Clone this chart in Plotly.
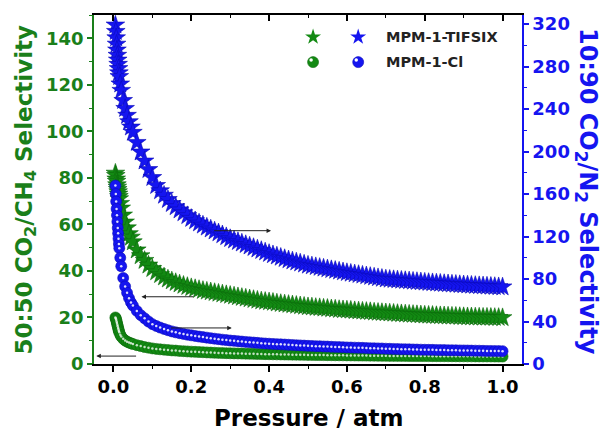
import plotly.graph_objects as go

# Pressure grid (atm) shared by all four selectivity curves
pressure = [
    0.005, 0.006, 0.007, 0.008, 0.009, 0.010, 0.011, 0.012, 0.013, 0.014, 0.015,
    0.0175, 0.020, 0.025, 0.030, 0.035, 0.040, 0.045, 0.050, 0.060, 0.070, 0.080,
    0.090, 0.100,
    0.11, 0.12, 0.13, 0.14, 0.15, 0.16, 0.17, 0.18, 0.19, 0.20,
    0.21, 0.22, 0.23, 0.24, 0.25, 0.26, 0.27, 0.28, 0.29, 0.30,
    0.31, 0.32, 0.33, 0.34, 0.35, 0.36, 0.37, 0.38, 0.39, 0.40,
    0.41, 0.42, 0.43, 0.44, 0.45, 0.46, 0.47, 0.48, 0.49, 0.50,
    0.51, 0.52, 0.53, 0.54, 0.55, 0.56, 0.57, 0.58, 0.59, 0.60,
    0.61, 0.62, 0.63, 0.64, 0.65, 0.66, 0.67, 0.68, 0.69, 0.70,
    0.71, 0.72, 0.73, 0.74, 0.75, 0.76, 0.77, 0.78, 0.79, 0.80,
    0.81, 0.82, 0.83, 0.84, 0.85, 0.86, 0.87, 0.88, 0.89, 0.90,
    0.91, 0.92, 0.93, 0.94, 0.95, 0.96, 0.97, 0.98, 0.99, 1.00,
]

# 50:50 CO2/CH4 selectivity, MPM-1-TIFSIX (left axis)
ch4_tifsix = [
    82.0, 81.0, 79.5, 78.5, 77.0, 76.0, 75.0, 74.0, 73.0, 72.0, 71.0,
    69.0, 67.0, 64.0, 61.0, 58.5, 56.0, 54.5, 52.5, 49.0, 46.5, 44.5,
    42.5, 41.0,
    39.6, 38.4, 37.4, 36.5, 35.7, 35.0, 34.4, 33.8, 33.3, 32.8,
    32.4, 32.0, 31.6, 31.3, 31.0, 30.7, 30.4, 30.1, 29.8, 29.5,
    29.2, 28.9, 28.6, 28.3, 28.0, 27.7, 27.4, 27.1, 26.9, 26.7,
    26.5, 26.2, 26.0, 25.8, 25.6, 25.4, 25.2, 25.0, 24.8, 24.6,
    24.5, 24.3, 24.2, 24.0, 23.9, 23.7, 23.6, 23.4, 23.3, 23.2,
    23.1, 22.9, 22.8, 22.7, 22.6, 22.5, 22.3, 22.2, 22.1, 22.0,
    21.9, 21.8, 21.7, 21.6, 21.5, 21.4, 21.3, 21.2, 21.1, 21.0,
    20.95, 20.9, 20.8, 20.75, 20.7, 20.6, 20.55, 20.5, 20.4, 20.35,
    20.3, 20.25, 20.2, 20.15, 20.1, 20.1, 20.05, 20.0, 20.0, 19.9,
]

# 50:50 CO2/CH4 selectivity, MPM-1-Cl (left axis)
ch4_cl = [
    20.0, 19.6, 19.0, 18.3, 17.6, 16.9, 16.2, 15.5, 14.8, 14.2, 13.6,
    12.6, 11.8, 10.8, 10.1, 9.6, 9.2, 8.9, 8.6, 8.1, 7.7, 7.3,
    7.0, 6.7,
    6.5, 6.3, 6.15, 6.0, 5.85, 5.75, 5.6, 5.5, 5.4, 5.3,
    5.22, 5.14, 5.06, 4.98, 4.9, 4.84, 4.78, 4.72, 4.66, 4.6,
    4.56, 4.52, 4.48, 4.44, 4.4, 4.36, 4.32, 4.28, 4.24, 4.2,
    4.17, 4.14, 4.11, 4.08, 4.05, 4.02, 3.99, 3.96, 3.93, 3.9,
    3.88, 3.86, 3.84, 3.82, 3.80, 3.78, 3.76, 3.74, 3.72, 3.70,
    3.68, 3.66, 3.64, 3.62, 3.60, 3.58, 3.56, 3.54, 3.52, 3.50,
    3.49, 3.48, 3.47, 3.46, 3.45, 3.44, 3.43, 3.42, 3.41, 3.40,
    3.39, 3.38, 3.37, 3.36, 3.35, 3.34, 3.33, 3.32, 3.31, 3.30,
    3.29, 3.28, 3.27, 3.26, 3.25, 3.24, 3.23, 3.22, 3.21, 3.20,
]

# 10:90 CO2/N2 selectivity, MPM-1-TIFSIX (right axis)
n2_tifsix = [
    319.0, 313.0, 307.0, 301.0, 295.5, 290.5, 286.0, 282.0, 278.0, 274.0, 270.5,
    263.5, 257.5, 248.0, 240.5, 234.0, 228.0, 223.0, 218.0, 208.5, 199.5, 191.0,
    183.0, 175.5,
    168.0, 163.0, 158.8, 154.8, 151.0, 148.0, 145.0, 142.3, 139.6, 137.0,
    134.8, 132.7, 130.7, 128.8, 127.0, 125.2, 123.4, 121.6, 119.8, 118.0,
    116.6, 115.2, 113.8, 112.4, 111.0, 109.6, 108.2, 106.8, 105.4, 104.0,
    102.8, 101.6, 100.4, 99.2, 98.0, 97.0, 96.0, 95.0, 94.0, 93.0,
    92.3, 91.6, 90.9, 90.2, 89.5, 88.8, 88.1, 87.4, 86.7, 86.0,
    85.4, 84.8, 84.2, 83.6, 83.0, 82.4, 81.8, 81.2, 80.6, 80.0,
    79.7, 79.4, 79.1, 78.8, 78.5, 78.2, 77.9, 77.6, 77.3, 77.0,
    76.7, 76.5, 76.2, 76.0, 75.7, 75.5, 75.2, 75.0, 74.7, 74.5,
    74.3, 74.1, 73.9, 73.7, 73.5, 73.3, 73.1, 72.9, 72.7, 72.5,
]

# 10:90 CO2/N2 selectivity, MPM-1-Cl (right axis)
n2_cl = [
    168.0, 160.0, 153.0, 146.0, 140.0, 134.0, 128.0, 123.0, 118.0, 113.0, 109.0,
    100.0, 92.0, 81.0, 73.0, 67.0, 62.0, 58.0, 55.0, 50.0, 46.0, 43.0,
    40.0, 37.5,
    35.8, 34.3, 33.0, 31.8, 30.7, 29.8, 29.0, 28.3, 27.6, 27.0,
    26.4, 25.8, 25.3, 24.8, 24.3, 23.8, 23.4, 22.9, 22.5, 22.1,
    21.8, 21.5, 21.1, 20.8, 20.5, 20.2, 19.9, 19.6, 19.3, 19.1,
    18.9, 18.7, 18.5, 18.3, 18.1, 17.9, 17.7, 17.5, 17.3, 17.1,
    17.0, 16.8, 16.7, 16.5, 16.4, 16.2, 16.1, 15.9, 15.8, 15.6,
    15.5, 15.4, 15.3, 15.2, 15.0, 14.9, 14.8, 14.7, 14.6, 14.4,
    14.3, 14.2, 14.1, 14.0, 13.9, 13.8, 13.7, 13.6, 13.5, 13.4,
    13.35, 13.3, 13.2, 13.15, 13.1, 13.0, 12.95, 12.9, 12.8, 12.75,
    12.7, 12.6, 12.55, 12.5, 12.4, 12.35, 12.3, 12.2, 12.15, 12.1,
]

x_ticks = [0.0, 0.2, 0.4, 0.6, 0.8, 1.0]
x_ticklabels = ["0.0", "0.2", "0.4", "0.6", "0.8", "1.0"]
left_ticks = [0, 20, 40, 60, 80, 100, 120, 140]
right_ticks = [0, 40, 80, 120, 160, 200, 240, 280, 320]
series_names = ["MPM-1-TIFSIX", "MPM-1-Cl"]

GREEN = "#138a13"
GREEN_TXT = "#1a7f1a"
BLUE = "#1515f0"
FONT = "DejaVu Sans, Liberation Sans, Arial, sans-serif"

fig = go.Figure()

# left-axis curves (CO2/CH4)
fig.add_trace(go.Scatter(
    x=pressure, y=ch4_tifsix, mode="markers", xaxis="x", yaxis="y",
    marker=dict(symbol="star", size=14, color=GREEN, line=dict(color="#0b6a0b", width=0.6)),
    showlegend=False, hoverinfo="skip"))
fig.add_trace(go.Scatter(
    x=pressure, y=ch4_cl, mode="markers", xaxis="x", yaxis="y",
    marker=dict(symbol="circle", size=11, color=GREEN, line=dict(color="#0b6a0b", width=0.6)),
    showlegend=False, hoverinfo="skip"))
fig.add_trace(go.Scatter(
    x=pressure, y=ch4_cl, mode="markers", xaxis="x", yaxis="y",
    marker=dict(symbol="circle", size=2.5, color="rgba(255,255,255,0.75)", line=dict(width=0)),
    showlegend=False, hoverinfo="skip"))

# right-axis curves (CO2/N2)
fig.add_trace(go.Scatter(
    x=pressure, y=n2_tifsix, mode="markers", xaxis="x", yaxis="y2",
    marker=dict(symbol="star", size=14, color=BLUE, line=dict(color="#0a0ab8", width=0.6)),
    showlegend=False, hoverinfo="skip"))
fig.add_trace(go.Scatter(
    x=pressure, y=n2_cl, mode="markers", xaxis="x", yaxis="y2",
    marker=dict(symbol="circle", size=11, color=BLUE, line=dict(color="#0a0ab8", width=0.6)),
    showlegend=False, hoverinfo="skip"))
fig.add_trace(go.Scatter(
    x=pressure, y=n2_cl, mode="markers", xaxis="x", yaxis="y2",
    marker=dict(symbol="circle", size=2.5, color="rgba(255,255,255,0.85)", line=dict(width=0)),
    showlegend=False, hoverinfo="skip"))

# legend keys, drawn on an overlay frame that also carries the top axis
key_x = [0.513, 0.629, 0.513, 0.629]
key_y = [0.937, 0.937, 0.865, 0.865]
glint_x = [0.508, 0.624]
glint_y = [0.871, 0.871]
fig.add_trace(go.Scatter(
    x=key_x[:2], y=key_y[:2], mode="markers", xaxis="x2", yaxis="y3",
    marker=dict(symbol="star", size=12, color=[GREEN, BLUE], line=dict(width=0)),
    showlegend=False, hoverinfo="skip"))
fig.add_trace(go.Scatter(
    x=key_x[2:], y=key_y[2:], mode="markers", xaxis="x2", yaxis="y3",
    marker=dict(symbol="circle", size=11, color=[GREEN, BLUE],
                line=dict(color=["#0b6a0b", "#0a0ab8"], width=0.6)),
    showlegend=False, hoverinfo="skip"))
fig.add_trace(go.Scatter(
    x=glint_x, y=glint_y, mode="markers", xaxis="x2", yaxis="y3",
    marker=dict(symbol="circle", size=3.5, color="white", line=dict(width=0)),
    showlegend=False, hoverinfo="skip"))

tick_font = dict(family=FONT, size=18, weight="bold")

fig.update_layout(
    width=608, height=431,
    margin=dict(l=94, r=86, t=15, b=67),
    paper_bgcolor="white", plot_bgcolor="white",
    showlegend=False,
    xaxis=dict(
        range=[-0.05, 1.05], tickvals=x_ticks, ticktext=x_ticklabels,
        ticks="outside", ticklen=6, tickwidth=1.5, tickcolor="black",
        showline=True, linecolor="black", linewidth=1.5,
        showgrid=False, zeroline=False,
        tickfont=dict(tick_font, color="black"),
        minor=dict(dtick=0.1, tick0=0, ticks="outside", ticklen=3, tickwidth=1.2, tickcolor="black"),
    ),
    xaxis2=dict(
        range=[-0.05, 1.05], overlaying="x", side="top", anchor="y",
        tickvals=x_ticks, ticks="inside", ticklen=6, tickwidth=1.5, tickcolor="black",
        showticklabels=False, showline=True, linecolor="black", linewidth=1.5,
        showgrid=False, zeroline=False,
        minor=dict(dtick=0.1, tick0=0, ticks="inside", ticklen=3, tickwidth=1.2, tickcolor="black"),
    ),
    yaxis=dict(
        range=[0, 150], tickvals=left_ticks,
        ticks="outside", ticklen=5, tickwidth=1.5, tickcolor=GREEN_TXT,
        showline=True, linecolor=GREEN_TXT, linewidth=1.5,
        showgrid=False, zeroline=False,
        tickfont=dict(tick_font, color=GREEN_TXT),
        minor=dict(dtick=10, tick0=0, ticks="outside", ticklen=3, tickwidth=1.2, tickcolor=GREEN_TXT),
    ),
    yaxis2=dict(
        range=[0, 328.5], tickvals=right_ticks, overlaying="y", side="right", anchor="x",
        ticks="outside", ticklen=5, tickwidth=1.5, tickcolor=BLUE,
        showline=True, linecolor=BLUE, linewidth=1.5,
        showgrid=False, zeroline=False,
        tickfont=dict(tick_font, color=BLUE),
        minor=dict(dtick=20, tick0=0, ticks="outside", ticklen=3, tickwidth=1.2, tickcolor=BLUE),
    ),
    yaxis3=dict(range=[0, 1], overlaying="y", visible=False, fixedrange=True),
)

annotations = [
    dict(text="50:50 CO<sub>2</sub>/CH<sub>4</sub> Selectivity", xref="paper", yref="paper",
         x=-0.161, y=0.5, textangle=-90, showarrow=False,
         font=dict(family=FONT, size=23, weight="bold", color=GREEN_TXT),
         xanchor="center", yanchor="middle"),
    dict(text="10:90 CO<sub>2</sub>/N<sub>2</sub> Selectivity", xref="paper", yref="paper",
         x=1.1495, y=0.493, textangle=90, showarrow=False,
         font=dict(family=FONT, size=24, weight="bold", color=BLUE),
         xanchor="center", yanchor="middle"),
    dict(text="Pressure / atm", xref="paper", yref="paper", x=0.5, y=-0.155,
         showarrow=False, font=dict(family=FONT, size=23, weight="bold", color="black"),
         xanchor="center", yanchor="middle"),
]
for name, ly in zip(series_names, [0.937, 0.865]):
    annotations.append(dict(text=name, xref="paper", yref="paper", x=0.678, y=ly,
                            showarrow=False, xanchor="left", yanchor="middle",
                            font=dict(family=FONT, size=14.5, weight="bold", color="#222222")))

# arrows pointing each curve to its axis
arrow_specs = [
    ((0.255, 57.3), (0.405, 57.3)),
    ((0.209, 28.9), (0.072, 28.9)),
    ((0.144, 15.5), (0.304, 15.5)),
    ((0.062, 3.4), (-0.044, 3.4)),
]
for (tx, ty), (hx, hy) in arrow_specs:
    annotations.append(dict(x=hx, y=hy, ax=tx, ay=ty, xref="x", yref="y", axref="x", ayref="y",
                            text="", showarrow=True, arrowhead=2, arrowsize=0.9,
                            arrowwidth=1, arrowcolor="#222222"))

fig.update_layout(annotations=annotations)

fig.write_html("out.html")
